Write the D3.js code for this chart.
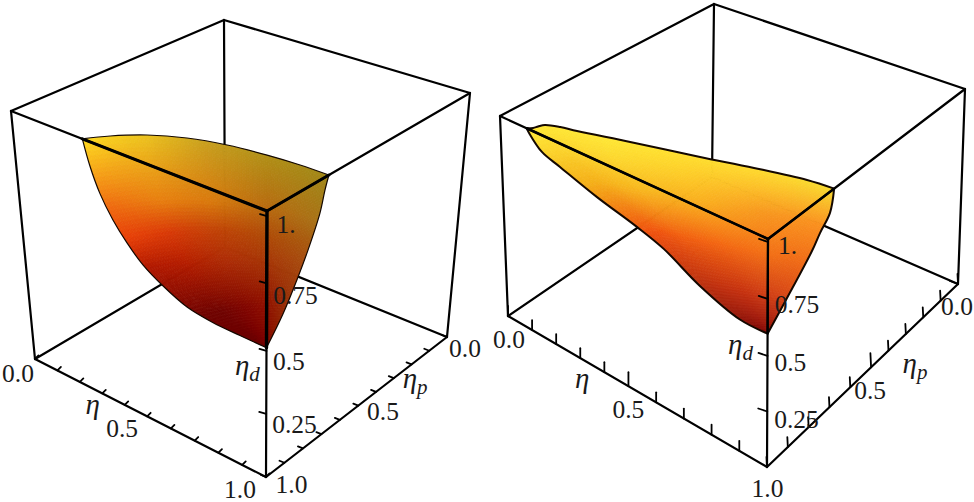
<!DOCTYPE html>
<html><head><meta charset="utf-8"><style>html,body{margin:0;background:#fff}svg{display:block}text{font-family:'Liberation Serif',serif;fill:#1a1a1a}</style></head><body>
<script src="https://cdn.jsdelivr.net/npm/d3@7"></script>
<script>
// ---- tick values and labels
const minorTicks = [0, 0.1, 0.2, 0.3, 0.4, 0.5, 0.6, 0.7, 0.8, 0.9, 1];
const heightTicks = [0.25, 0.5, 0.75, 1];
const heightTickLabels = ["0.25", "0.5", "0.75", "1."];
const leftEtaLabels = [0, 0.5, 1];
const leftEtaPLabels = [0, 0.5, 1];
const rightEtaLabels = [0, 0.5, 1];
const rightEtaPLabels = [0, 0.5];
const boxTop = 1.015;

// ---- left surface boundary
const leftRimEta  = [0.287, 0.335, 0.414, 0.519, 0.639, 0.773, 0.891, 1];
const leftRimEtaP = [1, 0.926, 0.844, 0.78, 0.738, 0.714, 0.703, 0.701];
const leftSideEta = [0.287, 0.311, 0.345, 0.394, 0.4485, 0.512, 0.585, 0.683, 0.785, 0.894, 1];
const leftSideH   = [1.015, 0.922, 0.83, 0.745, 0.678, 0.618, 0.573, 0.531, 0.516, 0.513, 0.512];
const leftFrontP  = [0.701, 0.718, 0.74, 0.795, 0.843, 0.917, 1];
const leftFrontH  = [1.015, 0.97, 0.892, 0.779, 0.7, 0.597, 0.512];

// ---- right surface boundary
const rightRimEta  = [0.107, 0.12, 0.125, 0.134, 0.176, 0.23, 0.395, 0.604, 0.756, 0.912, 1];
const rightRimEtaP = [1, 0.986, 0.97, 0.95, 0.929, 0.914, 0.86, 0.795, 0.745, 0.703, 0.692];
const rightSideEta = [0.107, 0.116, 0.166, 0.238, 0.386, 0.54, 0.635, 0.761, 0.902, 1];
const rightSideH   = [1.015, 0.995, 0.93, 0.898, 0.837, 0.787, 0.745, 0.658, 0.598, 0.598];
const rightFrontP  = [0.692, 0.71, 0.756, 0.793, 0.909, 1];
const rightFrontH  = [1.015, 0.915, 0.858, 0.805, 0.684, 0.598];

// ---- layout and styling
const panels = [{
  id: "a",
  bottom: {back:[225,247], left:[35,359], right:[447,337], front:[266,477]},
  top:    {back:[224,20],  left:[11,111], right:[470,93],  front:[267,211]},
  warp: {e:0.4855, p:0.49, d:[0.474,0.981]},
  rim: [leftRimEta, leftRimEtaP], side: [leftSideEta, leftSideH], front: [leftFrontP, leftFrontH],
  shadeRows: [0,0.25,0.375,0.5,0.75,1],
  shades: [
    ["#ffdc20","#ecc420","#c8a020","#b09018","#a08818"],
    ["#f06a10","#e88010","#d87a0e","#b86a10","#a87418"],
    ["#e84008","#d83c08","#c04408","#b04c08","#a85c10"],
    ["#b01800","#b82000","#b03008","#a83808","#a84c10"],
    ["#700400","#700400","#800600","#901000","#983008"],
    ["#700000","#700000","#780200","#800800","#881000"]],
  outlineWidth: 1.2, frontWidth: 3.2, zWidth: 3.4,
  etaTick:[3.5,-3.5], etaPTick:[-5,-2], hTick:[-7,-2], major:1,
  etaLabels: leftEtaLabels, etaPLabels: leftEtaPLabels,
  etaOff: [[-17,23],[-25,20.7],[-26,20.5]],
  etaPOff: [[18,20],[24.7,14.4],[25.5,16]],
  hOff: [[6,19],[6.5,19],[6.5,20.5],[9.5,17]],
  etaTitle: {at:0.25, dx:1.5, dy:26},
  etaPTitle:{at:0.25, dx:0, dy:17},
  hTitle:   {at:0.5, dx:-31.5, dy:24}
},{
  id: "b",
  bottom: {back:[712,177], left:[508,316], right:[958,284], front:[767,467]},
  top:    {back:[714,4],   left:[500,116], right:[965,89],  front:[768,239]},
  warp: {e:0.465, p:0.455, d:[0.487,0.987]},
  rim: [rightRimEta, rightRimEtaP], side: [rightSideEta, rightSideH], front: [rightFrontP, rightFrontH],
  shadeRows: [0,0.25,0.5,0.75,1],
  shades: [
    ["#ffe838","#ffe838","#ffe030","#ffdc30","#f8dc30"],
    ["#f4ae18","#f8b820","#fab020","#f89820","#fa9020"],
    ["#f05010","#f26012","#f46a14","#f47218","#f06c18"],
    ["#b83010","#c03010","#c83412","#d04018","#d84818"],
    ["#801010","#801010","#881010","#901410","#981810"]],
  outlineWidth: 2, frontWidth: 2.5, zWidth: 2.2,
  etaTick:[0,-10], etaPTick:[-0.5,-10], hTick:[-9,-3], major:1.4,
  etaLabels: rightEtaLabels, etaPLabels: rightEtaPLabels,
  etaOff: [[1,32],[0,32],[0.5,30]],
  etaPOff: [[-1,31],[-1,31.7]],
  hOff: [[7,16.5],[7,15],[7,14],[10,12]],
  etaTitle: {at:0.25, dx:14, dy:37},
  etaPTitle:{at:0.25, dx:-12, dy:47},
  hTitle:   {at:0.5, dx:-39.5, dy:-2}
}];

const svg = d3.select("body").append("svg").attr("width",974).attr("height",502);
const lerp = (a,b,t)=>[a[0]+(b[0]-a[0])*t, a[1]+(b[1]-a[1])*t];

panels.forEach(drawPanel);

function drawPanel(cfg){
  const g = svg.append("g");
  const E = d3.scaleLinear([0,0.5,1],[0,cfg.warp.e,1]);
  const P = d3.scaleLinear([0,0.5,1],[0,cfg.warp.p,1]);
  const H = d3.scaleLinear([0,0.5,1,boxTop],[0,cfg.warp.d[0],cfg.warp.d[1],1]);
  const face = (c,e,p)=>lerp(lerp(c.back,c.left,P(p)),lerp(c.right,c.front,P(p)),E(e));
  const project = (e,p,h)=>lerp(face(cfg.bottom,e,p),face(cfg.top,e,p),H(h));
  const line = d3.line();
  const smooth = d3.line().curve(d3.curveCatmullRom.alpha(0.5));

  const seg = (pts,w,parent=g)=>parent.append("path").attr("d",line(pts)).attr("fill","none")
    .attr("stroke","#000").attr("stroke-width",w).attr("stroke-linecap","round");

  // back box edges
  const c = {b:cfg.bottom,t:cfg.top};
  [[c.t.left,c.t.back],[c.t.back,c.t.right],[c.b.left,c.t.left],[c.b.right,c.t.right],
   [c.b.back,c.t.back],[c.b.left,c.b.back],[c.b.back,c.b.right]].forEach(s=>seg(s,2.2));

  // surface boundary through the projection
  const rimPts = d3.zip(cfg.rim[0],cfg.rim[1]).map(([e,p])=>project(e,p,boxTop));
  const sidePts = d3.zip(cfg.side[0],cfg.side[1]).map(([e,h])=>project(e,1,h));
  const frontPts = d3.zip(cfg.front[0],cfg.front[1]).map(([p,h])=>project(1,p,h));
  const sampler = pts=>{
    const n = svg.append("path").attr("d",smooth(pts)).attr("fill","none").node();
    const L = n.getTotalLength();
    const tab = d3.range(0,121).map(i=>{const q=n.getPointAtLength(L*i/120);return [q.x,q.y]});
    n.remove();
    return t=>{const f=Math.min(119.999,t*120),i=Math.floor(f);return lerp(tab[i],tab[i+1],f-i)};
  };
  const rimF = sampler(rimPts), sideF = sampler(sidePts), frontF = sampler(frontPts);
  const A = rimPts[0], B = rimPts[rimPts.length-1], C = frontPts[frontPts.length-1];
  const patch = (u,v)=>{
    const base = lerp(sideF(v),frontF(v),u), r = rimF(u), ch = lerp(A,B,u);
    return [base[0]+(1-v)*(r[0]-ch[0]), base[1]+(1-v)*(r[1]-ch[1])];
  };
  const outline = smooth(rimPts)+smooth(frontPts).replace(/^M/,"L")+smooth(sidePts.slice().reverse()).replace(/^M/,"L")+"Z";
  const clipId = "clip-"+cfg.id;
  svg.append("clipPath").attr("id",clipId).append("path").attr("d",outline);

  // colour mesh
  const stops = [0,0.25,0.5,0.75,1];
  const rowScales = cfg.shades.map(r=>d3.scaleLinear(stops,r).interpolate(d3.interpolateRgb));
  const rows = cfg.shadeRows;
  const shade = (u,v)=>{
    const i = Math.min(rows.length-2,d3.bisectRight(rows,v)-1);
    return d3.interpolateRgb(rowScales[i](u),rowScales[i+1](u))((v-rows[i])/(rows[i+1]-rows[i]));
  };
  const N = 64, cells = d3.cross(d3.range(N),d3.range(N));
  g.append("g").attr("clip-path",`url(#${clipId})`).selectAll("path").data(cells).join("path")
    .attr("d",([i,j])=>{
      const a=i/N,b=(i+1)/N,s=j/N,t=(j+1)/N;
      return line([patch(a,s),patch(b,s),patch(b,t),patch(a,t)])+"Z";
    })
    .attr("fill",([i,j])=>shade((i+.5)/N,(j+.5)/N))
    .attr("stroke",([i,j])=>shade((i+.5)/N,(j+.5)/N)).attr("stroke-width",0.8);
  g.append("path").attr("d",outline).attr("fill","none").attr("stroke","#140800").attr("stroke-width",cfg.outlineWidth);

  // front box edges
  [[c.t.left,c.t.front],[c.t.right,c.t.front],[c.b.front,c.t.front],[c.b.left,c.b.front],[c.b.right,c.b.front]].forEach(s=>seg(s,2.2));
  seg([A,c.t.front],cfg.frontWidth);
  seg([B,c.t.front],cfg.frontWidth-0.2);
  seg([C,c.t.front],cfg.zWidth);

  // ticks
  const tick = (base,dir,k=1)=>seg([base,[base[0]+dir[0]*k,base[1]+dir[1]*k]],1.8);
  minorTicks.forEach(t=>{
    tick(project(t,1,0),cfg.etaTick,t===0.5?cfg.major:1);
    tick(project(1,t,0),cfg.etaPTick,t===0.5?cfg.major:1);
  });
  if(cfg.id==="b") tick(project(1,0,0),[-8,-3]);
  heightTicks.forEach(h=>tick(project(1,1,h),cfg.hTick));

  // tick labels
  const label = (pt,off,s,anchor="middle")=>g.append("text").attr("x",pt[0]+off[0]).attr("y",pt[1]+off[1])
    .attr("text-anchor",anchor).attr("font-size",25.5).text(s);
  cfg.etaLabels.forEach((t,i)=>label(project(t,1,0),cfg.etaOff[i],d3.format(".1f")(t)));
  cfg.etaPLabels.forEach((t,i)=>label(project(1,t,0),cfg.etaPOff[i],d3.format(".1f")(t)));
  heightTicks.forEach((h,i)=>label(project(1,1,h),cfg.hOff[i],heightTickLabels[i],"start"));

  // axis titles
  const title = (pt,o,sub,anchor)=>{
    const t=g.append("text").attr("x",pt[0]+o.dx).attr("y",pt[1]+o.dy).attr("text-anchor",anchor)
      .attr("font-style","italic").attr("font-size",29).text("η");
    if(sub) t.append("tspan").attr("font-size",21).attr("dy",6).text(sub);
  };
  title(project(cfg.etaTitle.at,1,0),cfg.etaTitle,"", "middle");
  title(project(1,cfg.etaPTitle.at,0),cfg.etaPTitle,"p","start");
  title(project(1,1,cfg.hTitle.at),cfg.hTitle,"d","start");
}
</script></body></html>
